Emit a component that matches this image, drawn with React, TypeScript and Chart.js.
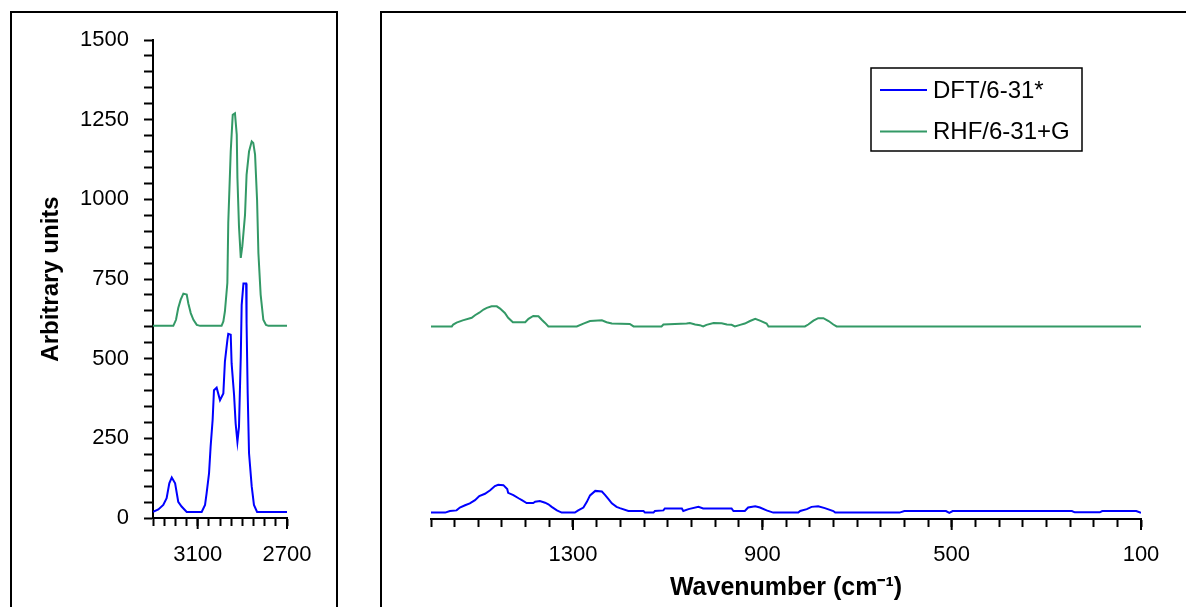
import React, { useEffect, useRef } from "react";
import { Chart, registerables } from "chart.js";

Chart.register(...registerables);

// ---------- DATA ----------
const seriesNames = ["DFT/6-31*", "RHF/6-31+G"];
const seriesColors = ["#0000FF", "#339966"];

// Left panel: 3300 - 2700 cm-1
const leftDftWave = [3300, 3276, 3254, 3239, 3227, 3216, 3201, 3187, 3172, 3149, 3082, 3067, 3060, 3049, 3042, 3033, 3027, 3015, 3000, 2985, 2978, 2967, 2963, 2952, 2948, 2937, 2930, 2922, 2915, 2907, 2903, 2895, 2883, 2881, 2876, 2870, 2858, 2848, 2834, 2700];
const leftDftVal = [19, 27, 41, 62, 109, 127, 109, 51, 36, 19, 19, 41, 77, 141, 224, 308, 401, 409, 370, 391, 491, 558, 578, 575, 485, 386, 297, 239, 286, 506, 668, 736, 736, 611, 391, 203, 99, 41, 19, 19];

const leftRhfWave = [3300, 3209, 3197, 3187, 3176, 3164, 3149, 3142, 3131, 3119, 3104, 3089, 2993, 2985, 2978, 2967, 2963, 2952, 2943, 2933, 2925, 2922, 2915, 2907, 2900, 2888, 2881, 2870, 2858, 2851, 2843, 2834, 2828, 2818, 2806, 2794, 2783, 2700];
const leftRhfVal = [603, 603, 622, 659, 685, 704, 701, 674, 643, 622, 606, 603, 603, 617, 648, 738, 926, 1150, 1265, 1270, 1203, 1067, 915, 816, 853, 951, 1077, 1150, 1182, 1177, 1140, 998, 831, 701, 622, 606, 603, 603];

// Right panel: 1600 - 100 cm-1
const rightDftWave = [1600, 1570, 1560, 1546, 1539, 1528, 1518, 1507, 1498, 1486, 1475, 1465, 1458, 1447, 1439, 1437, 1426, 1415, 1408, 1398, 1384, 1380, 1370, 1359, 1352, 1345, 1334, 1324, 1296, 1289, 1278, 1271, 1264, 1253, 1239, 1232, 1225, 1218, 1208, 1201, 1183, 1151, 1148, 1130, 1127, 1109, 1106, 1070, 1067, 1056, 1035, 1025, 965, 961, 937, 930, 915, 905, 891, 877, 824, 820, 806, 796, 782, 768, 750, 746, 694, 610, 600, 512, 505, 498, 246, 240, 187, 182, 110, 100];
const rightDftVal = [20, 20, 25, 27, 36, 43, 49, 59, 72, 79, 90, 103, 107, 106, 94, 82, 75, 65, 59, 50, 50, 54, 56, 51, 46, 38, 27, 20, 20, 27, 36, 53, 74, 88, 86, 75, 62, 49, 38, 34, 25, 25, 20, 20, 25, 27, 33, 33, 25, 31, 38, 33, 33, 25, 25, 36, 40, 36, 27, 20, 20, 25, 31, 38, 40, 34, 25, 20, 20, 20, 25, 25, 19, 25, 25, 21, 21, 25, 25, 19];

const rightRhfWave = [1600, 1556, 1553, 1546, 1533, 1514, 1507, 1498, 1489, 1482, 1472, 1461, 1454, 1444, 1437, 1427, 1401, 1394, 1384, 1373, 1366, 1359, 1352, 1292, 1278, 1264, 1239, 1229, 1218, 1180, 1172, 1113, 1109, 1060, 1053, 1042, 1032, 1025, 1018, 1003, 986, 975, 965, 958, 947, 937, 926, 915, 905, 891, 887, 810, 803, 792, 782, 771, 760, 750, 743, 100];
const rightRhfVal = [603, 603, 609, 615, 622, 630, 638, 646, 656, 661, 666, 666, 659, 645, 630, 616, 616, 627, 636, 635, 624, 614, 603, 603, 612, 620, 622, 616, 612, 611, 603, 603, 609, 612, 614, 609, 607, 603, 608, 614, 613, 609, 608, 603, 608, 612, 620, 627, 621, 612, 603, 603, 609, 621, 629, 629, 620, 609, 603, 603];

const yTickLabels = [0, 250, 500, 750, 1000, 1250, 1500];
const leftXTickLabels = [3100, 2700];
const rightXTickLabels = [1300, 900, 500, 100];
const yTitle = "Arbitrary units";
const xTitle = "Wavenumber (cm\u207B\u00B9)";

// ---------- HELPERS ----------
const FONT = "'Liberation Sans', Arial, Helvetica, sans-serif";

const toPoints = (xs: number[], ys: number[]) => xs.map((x, i) => ({ x, y: ys[i] }));

const stepTicks = (step: number) => (scale: any) => {
  const t: { value: number }[] = [];
  for (let v = scale.min; v <= scale.max + 1e-6; v += step) t.push({ value: v });
  scale.ticks = t;
};

const makeDatasets = (dft: { x: number; y: number }[], rhf: { x: number; y: number }[]) => [
  { label: seriesNames[0], data: dft, borderColor: seriesColors[0], backgroundColor: seriesColors[0], borderWidth: 2, pointRadius: 0, tension: 0, fill: false },
  { label: seriesNames[1], data: rhf, borderColor: seriesColors[1], backgroundColor: seriesColors[1], borderWidth: 2, pointRadius: 0, tension: 0, fill: false },
];

const axisGrid = { display: true, drawOnChartArea: false, drawTicks: true, tickLength: 8, tickColor: "#000", tickWidth: 2, color: "#000" };
const axisBorder = { display: true, color: "#000", width: 2 };

// longer tick marks at labelled x positions
const majorTicks = {
  id: "majorTicks",
  afterDraw(chart: any) {
    const s = chart.scales.x;
    const ctx = chart.ctx as CanvasRenderingContext2D;
    ctx.save();
    ctx.strokeStyle = "#000";
    ctx.lineWidth = 2;
    s.ticks.forEach((t: any) => {
      if (t.label !== "" && t.label != null) {
        const px = s.getPixelForValue(t.value);
        ctx.beginPath();
        ctx.moveTo(px, s.top);
        ctx.lineTo(px, s.top + 11);
        ctx.stroke();
      }
    });
    ctx.restore();
  },
};

const boxLegend = {
  id: "boxLegend",
  afterDraw(chart: any) {
    const ctx = chart.ctx as CanvasRenderingContext2D;
    ctx.save();
    ctx.strokeStyle = "#000";
    ctx.lineWidth = 1.5;
    ctx.strokeRect(491, 68, 211, 83);
    const rows = [90, 131.5];
    chart.data.datasets.forEach((ds: any, i: number) => {
      ctx.strokeStyle = ds.borderColor;
      ctx.lineWidth = 2;
      ctx.beginPath();
      ctx.moveTo(500, rows[i]);
      ctx.lineTo(547, rows[i]);
      ctx.stroke();
      ctx.fillStyle = "#000";
      ctx.font = `24px ${FONT}`;
      ctx.textBaseline = "middle";
      ctx.textAlign = "left";
      ctx.fillText(ds.label, 553, rows[i] + 1);
    });
    ctx.restore();
  },
};

export default function App() {
  const leftRef = useRef<HTMLCanvasElement>(null);
  const rightRef = useRef<HTMLCanvasElement>(null);

  useEffect(() => {
    const left = new Chart(leftRef.current!, {
      type: "line",
      data: { datasets: makeDatasets(toPoints(leftDftWave, leftDftVal), toPoints(leftRhfWave, leftRhfVal)) as any },
      options: {
        responsive: false,
        animation: false,
        devicePixelRatio: 1,
        layout: { padding: { left: 0, top: 40, right: 53, bottom: 0 } },
        plugins: { legend: { display: false }, tooltip: { enabled: false } },
        scales: {
          x: {
            type: "linear",
            min: 2700,
            max: 3300,
            reverse: true,
            afterBuildTicks: stepTicks(50),
            afterFit: (s: any) => { s.height = 89; },
            grid: axisGrid,
            border: axisBorder,
            ticks: {
              autoSkip: false,
              maxRotation: 0,
              padding: 16,
              color: "#000",
              font: { family: FONT, size: 22 },
              callback: (v: any) => (leftXTickLabels.includes(Number(v)) ? String(v) : ""),
            },
          },
          y: {
            type: "linear",
            min: 0,
            max: 1500,
            afterBuildTicks: stepTicks(50),
            afterFit: (s: any) => { s.width = 153; },
            grid: { ...axisGrid, tickLength: 9 },
            border: axisBorder,
            title: { display: true, text: yTitle, color: "#000", font: { family: FONT, size: 24, weight: "bold" }, padding: { top: 37, bottom: 0 } },
            ticks: {
              autoSkip: false,
              padding: 15,
              color: "#000",
              font: { family: FONT, size: 22 },
              callback: (v: any) => (yTickLabels.includes(Number(v)) ? String(v) : ""),
            },
          },
        },
      } as any,
      plugins: [majorTicks],
    });

    const right = new Chart(rightRef.current!, {
      type: "line",
      data: { datasets: makeDatasets(toPoints(rightDftWave, rightDftVal), toPoints(rightRhfWave, rightRhfVal)) as any },
      options: {
        responsive: false,
        animation: false,
        devicePixelRatio: 1,
        layout: { padding: { left: 51, top: 40, right: 45, bottom: 0 } },
        plugins: { legend: { display: false }, tooltip: { enabled: false } },
        scales: {
          x: {
            type: "linear",
            min: 100,
            max: 1600,
            reverse: true,
            afterBuildTicks: stepTicks(50),
            afterFit: (s: any) => { s.height = 88; },
            grid: axisGrid,
            border: axisBorder,
            title: { display: true, text: xTitle, color: "#000", font: { family: FONT, size: 25, weight: "bold" }, padding: { top: 0, bottom: 4 } },
            ticks: {
              autoSkip: false,
              maxRotation: 0,
              padding: 15,
              color: "#000",
              font: { family: FONT, size: 22 },
              callback: (v: any) => (rightXTickLabels.includes(Number(v)) ? String(v) : ""),
            },
          },
          y: { type: "linear", display: false, min: 0, max: 1500 },
        },
      } as any,
      plugins: [majorTicks, boxLegend],
    });

    return () => {
      left.destroy();
      right.destroy();
    };
  }, []);

  return (
    <div style={{ position: "fixed", left: 0, top: 0, width: 1186, height: 607, overflow: "hidden", background: "#fff" }}>
      <div style={{ position: "absolute", left: 10, top: 11, width: 328, height: 700, border: "2px solid #000", boxSizing: "border-box" }} />
      <div style={{ position: "absolute", left: 380, top: 11, width: 1000, height: 700, border: "2px solid #000", boxSizing: "border-box" }} />
      <canvas ref={leftRef} width={340} height={607} style={{ position: "absolute", left: 0, top: 0, width: 340, height: 607 }} />
      <canvas ref={rightRef} width={806} height={607} style={{ position: "absolute", left: 380, top: 0, width: 806, height: 607 }} />
    </div>
  );
}
